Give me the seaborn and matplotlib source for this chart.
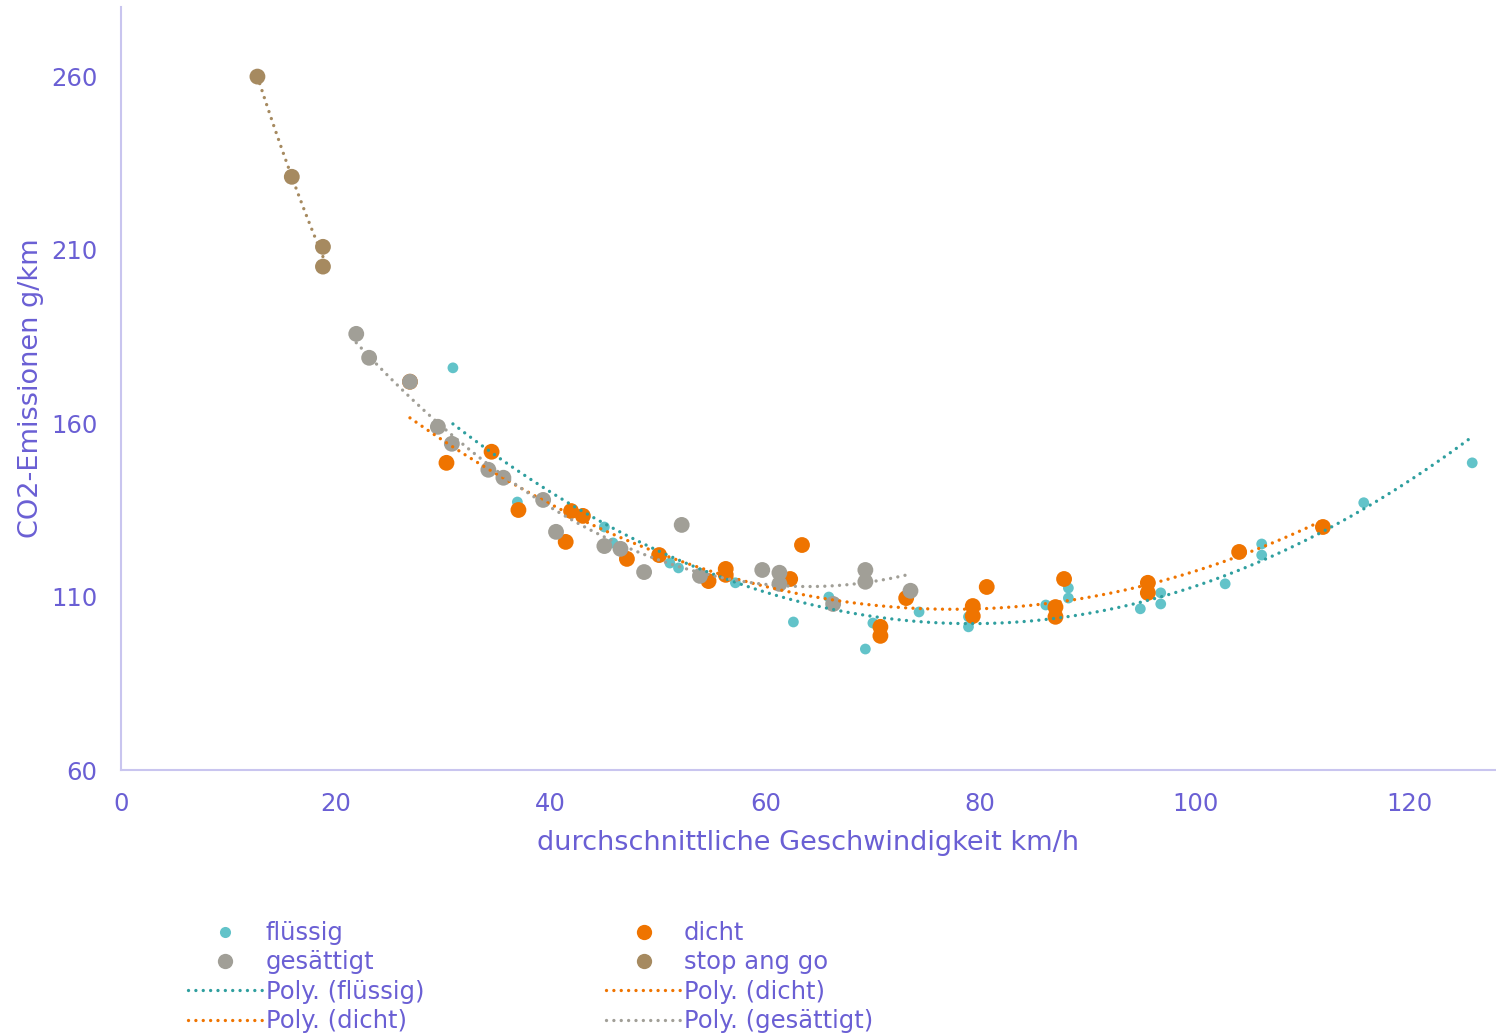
import numpy as np
import pandas as pd
import matplotlib
matplotlib.use("Agg")
import matplotlib.pyplot as plt
from matplotlib.lines import Line2D
import seaborn as sns

# ------------------ Data ------------------
fluessig_x = [30.9, 36.9, 45.0, 45.8, 51.1, 51.9, 57.2, 62.6, 65.9, 69.3, 70.0, 74.3,
              78.9, 78.9, 86.1, 88.2, 88.2, 94.9, 96.8, 96.8, 102.8, 106.2, 106.2, 115.7, 125.8]
fluessig_y = [176.0, 137.3, 130.1, 125.5, 119.7, 118.3, 114.0, 102.7, 109.9, 94.9, 102.4, 105.6,
              104.2, 101.3, 107.6, 112.5, 109.6, 106.5, 111.1, 107.9, 113.7, 125.2, 122.0, 137.1, 148.6]

dicht_x = [26.9, 30.3, 34.5, 37.0, 41.4, 41.9, 43.0, 47.1, 50.1, 54.7, 56.3, 56.3, 62.3, 63.4,
           70.7, 70.7, 73.1, 79.3, 79.3, 80.6, 87.0, 87.0, 87.8, 95.6, 95.6, 104.1, 111.9]
dicht_y = [172.0, 148.6, 151.8, 135.0, 125.8, 134.7, 133.3, 120.9, 122.0, 114.5, 118.0, 116.3, 115.1, 124.9,
           101.3, 98.7, 109.6, 107.3, 104.4, 112.8, 107.0, 104.2, 115.1, 114.0, 111.1, 122.9, 130.1]

gesaettigt_x = [21.9, 23.1, 26.9, 29.5, 30.8, 34.2, 35.6, 39.3, 40.5, 45.0, 46.5, 48.7, 52.2,
                53.9, 59.7, 61.3, 61.3, 66.3, 69.3, 69.3, 73.5]
gesaettigt_y = [185.8, 178.9, 172.0, 159.0, 154.1, 146.6, 144.3, 137.9, 128.7, 124.6, 123.8, 117.1, 130.7,
                116.0, 117.7, 116.9, 113.7, 107.9, 117.7, 114.3, 111.7]

stopgo_x = [12.7, 15.9, 18.8, 18.8]
stopgo_y = [260.0, 231.1, 210.9, 205.2]

x_ticks = [0, 20, 40, 60, 80, 100, 120]
y_ticks = [60, 110, 160, 210, 260]

# ------------------ Style ------------------
TEXT = "#6a5fd4"
AXIS = "#c9c5ef"
c_fl, c_fl_line = "#62c3c9", "#2f9f9f"
c_di = "#ef7400"
c_ge = "#a19f97"
c_st = "#a68a60"

sns.set_theme(style="white")
plt.rcParams["font.family"] = ["DejaVu Sans"]

fig = plt.figure(figsize=(14.96, 10.35), dpi=100)
ax = fig.add_axes([0.0809, 0.256, 0.919, 0.737])

# series in Excel order: later ones are drawn on top
groups = [
    ("flüssig", fluessig_x, fluessig_y, c_fl, c_fl_line, 60),
    ("dicht", dicht_x, dicht_y, c_di, c_di, 130),
    ("gesättigt", gesaettigt_x, gesaettigt_y, c_ge, c_ge, 130),
    ("stop ang go", stopgo_x, stopgo_y, c_st, c_st, 130),
]

for i, (name, xs, ys, col, lcol, size) in enumerate(groups):
    df = pd.DataFrame({"x": xs, "y": ys})
    sns.scatterplot(data=df, x="x", y="y", color=col, s=size, edgecolor="none",
                    ax=ax, zorder=2 + i * 0.1, legend=False)

# polynomial (order 2) trend lines
for name, xs, ys, col, lcol, size in groups:
    coef = np.polyfit(xs, ys, 2)
    xx = np.linspace(min(xs), max(xs), 200)
    ax.plot(xx, np.polyval(coef, xx), color=lcol, lw=2.4, dashes=(0.01, 2.2),
            dash_capstyle="round", zorder=3)

ax.set_xlim(0, 128)
ax.set_ylim(60, 280)
ax.set_xticks(x_ticks)
ax.set_yticks(y_ticks)
ax.tick_params(axis="both", colors=TEXT, labelsize=17.5, length=0)
ax.tick_params(axis="x", pad=16)
ax.tick_params(axis="y", pad=17)
for side in ["top", "right"]:
    ax.spines[side].set_visible(False)
for side in ["left", "bottom"]:
    ax.spines[side].set_color(AXIS)
    ax.spines[side].set_linewidth(1.5)

ax.set_xlabel("durchschnittliche Geschwindigkeit km/h", color=TEXT, fontsize=19.5, labelpad=10)
ax.set_ylabel("CO2-Emissionen g/km", color=TEXT, fontsize=19.5, labelpad=5)

# legend (column-wise fill, two columns)
def pt(col, ms):
    return Line2D([], [], marker="o", color="none", markerfacecolor=col,
                  markeredgecolor="none", markersize=ms)

def ln(col):
    return Line2D([], [], color=col, lw=2.4, dashes=(0.01, 2.2), dash_capstyle="round")

handles = [pt(c_fl, 8), pt(c_ge, 11), ln(c_fl_line), ln(c_di),
           pt(c_di, 11), pt(c_st, 11), ln(c_di), ln(c_ge)]
labels = ["flüssig", "gesättigt", "Poly. (flüssig)", "Poly. (dicht)",
          "dicht", "stop ang go", "Poly. (dicht)", "Poly. (gesättigt)"]
leg = fig.legend(handles, labels, ncol=2, loc="upper left", bbox_to_anchor=(0.119, 0.1195),
                 frameon=False, fontsize=17.5, handlelength=3.1, handletextpad=0.1,
                 columnspacing=7.5, labelspacing=0.22, borderaxespad=0)
for t in leg.get_texts():
    t.set_color(TEXT)

plt.savefig("out.png", dpi=100)
plt.close()
